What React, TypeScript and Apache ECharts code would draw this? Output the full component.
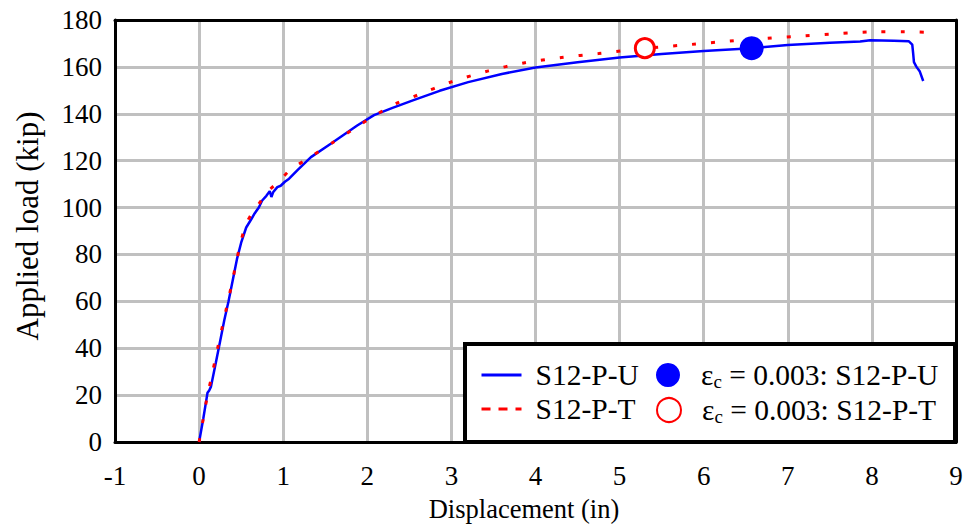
import React, { useEffect, useRef } from "react";
import * as echarts from "echarts";

const xTicks = { min: -1, max: 9, step: 1 };
const yTicks = { min: 0, max: 180, step: 20 };

const nameU = "S12-P-U";
const nameT = "S12-P-T";
const nameUc = "εc = 0.003: S12-P-U";
const nameTc = "εc = 0.003: S12-P-T";

// S12-P-U measured curve [displacement (in), load (kip)]
const curveU: number[][] = [
  [0, 0], [0.05, 10], [0.1, 21], [0.12, 22], [0.14, 23.5], [0.2, 34], [0.25, 43],
  [0.3, 52], [0.35, 60], [0.4, 69], [0.45, 78], [0.5, 85], [0.56, 91.5],
  [0.62, 95], [0.66, 97.5], [0.71, 100], [0.75, 103], [0.8, 105], [0.84, 107],
  [0.86, 104.5], [0.88, 106.5], [0.93, 108.7], [0.97, 109.3], [1.02, 111],
  [1.07, 112.3], [1.17, 116], [1.33, 121.5], [1.57, 127.3], [1.88, 135],
  [2.08, 139.4], [2.3, 142.5], [2.55, 145.8], [2.86, 149.8], [3.2, 153.5],
  [3.6, 157], [4.0, 159.7], [4.5, 162], [5.0, 164], [5.5, 165.5], [6.0, 166.8],
  [6.57, 168], [7.0, 169.3], [7.5, 170.3], [7.86, 170.8], [7.98, 171.4],
  [8.26, 171.1], [8.44, 170.9], [8.48, 169.5], [8.49, 166], [8.5, 162],
  [8.53, 160], [8.57, 158], [8.61, 154],
];

// S12-P-T curve
const curveT: number[][] = [
  [0, 0], [0.05, 10], [0.1, 20], [0.15, 28], [0.22, 40], [0.3, 53], [0.38, 66],
  [0.45, 78], [0.5, 86], [0.56, 93], [0.62, 97], [0.7, 101], [0.78, 105],
  [0.85, 108], [0.95, 111], [1.08, 116], [1.3, 121], [1.6, 128], [1.9, 135],
  [2.1, 139.5], [2.34, 144.3], [2.6, 148], [3.0, 153.6], [3.44, 158.3],
  [3.86, 161.7], [4.31, 164], [4.75, 165.7], [5.3, 167.9], [5.86, 169.6],
  [6.3, 171], [6.75, 172.2], [7.2, 173.3], [7.6, 174.2], [8.06, 175], [8.4, 175],
  [8.71, 174.7], [8.75, 174.7],
];

// eps_c = 0.003 points
const pointU: number[][] = [[6.57, 168]];
const pointT: number[][] = [[5.3, 168]];

const FONT = "'Liberation Serif', 'Times New Roman', serif";

export default function App() {
  const ref = useRef<HTMLDivElement>(null);
  useEffect(() => {
    if (!ref.current) return;
    const chart = echarts.init(ref.current, undefined, { renderer: "svg" });
    const baseText = { fontFamily: FONT, fontSize: 27, color: "#000" };
    const richFmt = (n: string) =>
      n.startsWith("εc") ? "{b|ε}{s|c}{b|" + n.slice(2) + "}" : "{b|" + n + "}";
    const rich = {
      b: { fontFamily: FONT, fontSize: 29.5, color: "#000" },
      s: { fontFamily: FONT, fontSize: 19, color: "#000", verticalAlign: "bottom", padding: [13, 0, 0, 0] },
    };
    const legendBase = {
      orient: "vertical",
      z: 20,
      selectedMode: false,
      padding: 0,
      formatter: richFmt,
    };
    const hiddenSymbol = { color: "transparent", borderWidth: 0, opacity: 0 };
    const frameAxis = {
      type: "value",
      axisLine: { show: true, onZero: false, lineStyle: { color: "#000", width: 3 } },
      axisTick: { show: false },
      axisLabel: { show: false },
      splitLine: { show: false },
    };
    chart.setOption({
      animation: false,
      backgroundColor: "#fff",
      grid: {
        left: 115,
        right: 10,
        top: 20,
        bottom: 87,
        show: false,
        containLabel: false,
      },
      xAxis: [
        {
          type: "value",
          min: xTicks.min,
          max: xTicks.max,
          interval: xTicks.step,
          name: "Displacement (in)",
          nameLocation: "middle",
          nameGap: 53,
          nameTextStyle: { ...baseText, fontSize: 26.5, padding: [0, 23, 0, 0] },
          axisLine: { show: true, onZero: false, lineStyle: { color: "#000", width: 3 } },
          axisTick: { show: false },
          axisLabel: { ...baseText, margin: 20 },
          splitLine: { show: true, lineStyle: { color: "#c0c0c0", width: 3 } },
          z: 1,
        },
        { ...frameAxis, position: "top", min: xTicks.min, max: xTicks.max, z: 2 },
      ],
      yAxis: [
        {
          type: "value",
          min: yTicks.min,
          max: yTicks.max,
          interval: yTicks.step,
          name: "Applied load (kip)",
          nameLocation: "middle",
          nameGap: 72,
          nameTextStyle: { ...baseText, fontSize: 31, padding: [0, 0, 0, 10] },
          axisLine: { show: true, onZero: false, lineStyle: { color: "#000", width: 3 } },
          axisTick: { show: false },
          axisLabel: { ...baseText, margin: 13 },
          splitLine: { show: true, lineStyle: { color: "#c0c0c0", width: 3 } },
          z: 1,
        },
        { ...frameAxis, position: "right", min: yTicks.min, max: yTicks.max, z: 2 },
      ],
      graphic: [
        {
          type: "rect",
          z: 15,
          shape: { x: 465, y: 344, width: 490, height: 98 },
          style: { fill: "#fff", stroke: "#000", lineWidth: 4 },
        },
      ],
      legend: [
        {
          ...legendBase,
          data: [nameU],
          left: 480,
          top: 360,
          itemWidth: 40,
          itemHeight: 26,
          itemStyle: hiddenSymbol,
          lineStyle: { color: "#0000ff", width: 3, type: "solid" },
          textStyle: { ...baseText, rich, padding: [0, 0, 0, 9] },
        },
        {
          ...legendBase,
          data: [nameT],
          left: 480,
          top: 394,
          itemWidth: 40,
          itemHeight: 26,
          itemStyle: hiddenSymbol,
          lineStyle: { color: "#ff0000", width: 3, type: [9, 8] },
          textStyle: { ...baseText, rich, padding: [0, 0, 0, 9] },
        },
        {
          ...legendBase,
          data: [nameUc],
          left: 656,
          top: 360,
          itemWidth: 24,
          itemHeight: 24,
          textStyle: { ...baseText, rich, padding: [0, 0, 0, 16] },
        },
        {
          ...legendBase,
          data: [nameTc],
          left: 656,
          top: 395,
          itemWidth: 24,
          itemHeight: 24,
          textStyle: { ...baseText, rich, padding: [0, 0, 0, 16] },
        },
      ],
      series: [
        {
          name: nameU,
          type: "line",
          data: curveU,
          showSymbol: false,
          symbol: "none",
          lineStyle: { color: "#0000ff", width: 2.5 },
          itemStyle: { color: "#0000ff" },
          z: 3,
        },
        {
          name: nameT,
          type: "line",
          data: curveT,
          showSymbol: false,
          symbol: "none",
          smooth: 0.3,
          lineStyle: { color: "#ff0000", width: 3, type: [4, 15] },
          itemStyle: { color: "#ff0000" },
          z: 4,
        },
        {
          name: nameUc,
          type: "scatter",
          data: pointU,
          symbol: "circle",
          symbolSize: 24,
          itemStyle: { color: "#0000ff", opacity: 1 },
          z: 5,
        },
        {
          name: nameTc,
          type: "scatter",
          data: pointT,
          symbol: "circle",
          symbolSize: 19,
          itemStyle: { color: "#fff", borderColor: "#ff0000", borderWidth: 3, opacity: 1 },
          z: 5,
        },
      ],
    });
    return () => chart.dispose();
  }, []);
  return (
    <div
      ref={ref}
      style={{ position: "fixed", left: 0, top: 0, width: 966, height: 529 }}
    />
  );
}
